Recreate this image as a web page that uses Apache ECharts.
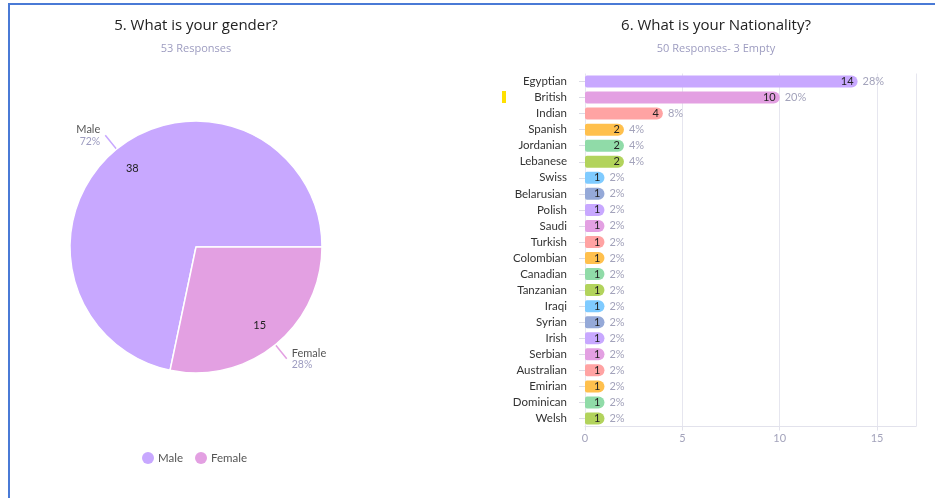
<!DOCTYPE html>
<html>
<head>
<meta charset="utf-8">
<script src="https://cdn.jsdelivr.net/npm/echarts@6/dist/echarts.min.js"></script>
<style>
  html, body { margin: 0; padding: 0; background: #fff; }
  #chart { width: 935px; height: 498px; }
</style>
</head>
<body>
<div id="chart"></div>
<script>
// Question 5: gender
const genderNames = ['Male', 'Female'];
const genderValues = [38, 15];
const genderColors = ['#c8a8ff', '#e3a0e2'];

// Question 6: nationality
const nationalities = ['Egyptian', 'British', 'Indian', 'Spanish', 'Jordanian', 'Lebanese', 'Swiss',
  'Belarusian', 'Polish', 'Saudi', 'Turkish', 'Colombian', 'Canadian', 'Tanzanian', 'Iraqi',
  'Syrian', 'Irish', 'Serbian', 'Australian', 'Emirian', 'Dominican', 'Welsh'];
const nationalityCounts = [14, 10, 4, 2, 2, 2, 1, 1, 1, 1, 1, 1, 1, 1, 1, 1, 1, 1, 1, 1, 1, 1];
const nationalityTotal = 50;
const xTicks = [0, 5, 10, 15];

const palette = ['#c8a8ff', '#e3a0e2', '#ffa3a3', '#ffc04d', '#90dba8', '#b2d35c', '#7fcbff', '#95a9d8'];

const FONT = 'Lato, "Open Sans", sans-serif';
const TITLE_FONT = '"Open Sans", Lato, sans-serif';
const genderTotal = genderValues.reduce((a, b) => a + b, 0);
// Male ends at 3 o'clock, Female sweeps clockwise from there
const pieStart = 360 * genderValues[0] / genderTotal;

const pieData = genderNames.map((n, i) => ({
  name: n, value: genderValues[i], itemStyle: { color: genderColors[i] }
}));

const chart = echarts.init(document.getElementById('chart'), null, { renderer: 'canvas' });
chart.setOption({
  animation: false,
  textStyle: { fontFamily: FONT },
  title: [
    { text: '5. What is your gender?', subtext: '53 Responses', left: 191, top: 13, textAlign: 'center',
      textStyle: { fontSize: 15, fontWeight: 'normal', color: '#222', fontFamily: TITLE_FONT },
      subtextStyle: { fontSize: 11, color: '#9d9cc0', fontFamily: TITLE_FONT }, itemGap: 10 },
    { text: '6. What is your Nationality?', subtext: '50 Responses- 3 Empty', left: 711, top: 13, textAlign: 'center',
      textStyle: { fontSize: 15, fontWeight: 'normal', color: '#222', fontFamily: TITLE_FONT },
      subtextStyle: { fontSize: 11, color: '#9d9cc0', fontFamily: TITLE_FONT }, itemGap: 10 }
  ],
  legend: {
    data: genderNames, left: 137, top: 447, icon: 'circle', itemWidth: 12, itemHeight: 12, itemGap: 12,
    itemStyle: { borderWidth: 0 },
    textStyle: { fontSize: 11.5, color: '#555', padding: [0, 0, 0, -1] }
  },
  grid: { left: 585, right: 19, top: 73.5, bottom: 71.5 },
  xAxis: {
    type: 'value', min: 0, max: 17, interval: 5,
    axisLine: { show: true, lineStyle: { color: '#e2e2ec' } },
    axisTick: { show: true, length: 4, lineStyle: { color: '#e2e2ec' } },
    splitLine: { show: true, lineStyle: { color: '#e6e6ef' } },
    axisLabel: { color: '#a3a3bb', fontSize: 11, margin: 6, showMaxLabel: false,
      formatter: v => (xTicks.indexOf(v) >= 0 ? String(v) : '') }
  },
  yAxis: {
    type: 'category', data: nationalities, inverse: true,
    axisLine: { show: false },
    axisTick: { show: true, length: 6, alignWithLabel: true, lineStyle: { color: '#dcdce6' } },
    axisLabel: { color: '#333', fontSize: 11.5, margin: 18 }
  },
  series: [
    {
      type: 'pie', center: [196, 247], radius: [0, 126], startAngle: pieStart, clockwise: true,
      data: pieData, legendHoverLink: false,
      itemStyle: { borderColor: '#fff', borderWidth: 1.5 },
      label: {
        show: true, position: 'outside', alignTo: 'none',
        formatter: p => '{n|' + p.name + '}\n{p|' + Math.round(p.percent) + '%}',
        rich: {
          n: { fontSize: 11, color: '#555', lineHeight: 12 },
          p: { fontSize: 10.5, color: '#9d9cc0', lineHeight: 11 }
        }
      },
      labelLine: { show: true, length: 18, length2: 0, smooth: false, lineStyle: { width: 1.5 } }
    },
    {
      // count labels inside each slice, sitting at ~77% of the radius
      type: 'pie', center: [196, 247], radius: [0, 196], startAngle: pieStart, clockwise: true,
      silent: true, legendHoverLink: false,
      data: genderNames.map((n, i) => ({ name: n, value: genderValues[i] })),
      itemStyle: { color: 'rgba(0,0,0,0)' },
      label: { show: true, position: 'inside', formatter: '{c}', fontSize: 11, color: '#222' },
      labelLine: { show: false }, emphasis: { disabled: true }
    },
    {
      type: 'bar', barWidth: 12, z: 3,
      data: nationalityCounts.map((v, i) => ({
        value: v, itemStyle: { color: palette[i % palette.length] }
      })),
      itemStyle: { borderRadius: [2, 6, 6, 2] },
      label: { show: true, position: 'insideRight', distance: 4, color: '#222', fontSize: 11 }
    },
    {
      // percentage labels to the right of each bar
      type: 'bar', barWidth: 12, barGap: '-100%', z: 2, silent: true,
      data: nationalityCounts,
      itemStyle: { color: 'rgba(0,0,0,0)' },
      label: { show: true, position: 'right', distance: 5, color: '#a3a3bb', fontSize: 11,
        formatter: p => Math.round(p.value / nationalityTotal * 100) + '%' }
    }
  ],
  graphic: [
    { type: 'rect', shape: { x: 8, y: 3, width: 927, height: 2 }, style: { fill: '#4a7ad6' } },
    { type: 'rect', shape: { x: 8, y: 3, width: 2, height: 495 }, style: { fill: '#4a7ad6' } },
    { type: 'rect', shape: { x: 502, y: 91, width: 4, height: 12 }, style: { fill: '#ffe000' } }
  ]
});
</script>
</body>
</html>
